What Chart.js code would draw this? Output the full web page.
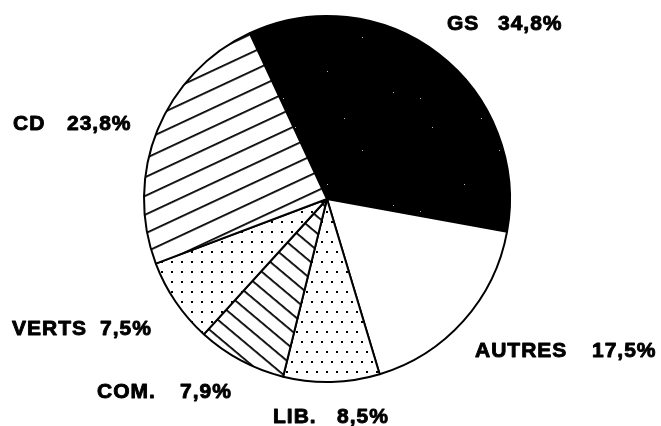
<!DOCTYPE html>
<html>
<head>
<meta charset="utf-8">
<script src="https://cdn.jsdelivr.net/npm/chart.js@4"></script>
<style>
  html, body { margin: 0; padding: 0; background: #fff; }
  canvas { display: block; }
</style>
</head>
<body>
<canvas id="pie" width="661" height="426"></canvas>
<script>
// parties, clockwise from the GS slice
const parties = ['GS', 'AUTRES', 'LIB.', 'COM.', 'VERTS', 'CD'];
const shares = [34.8, 17.5, 8.5, 7.9, 7.5, 23.8];
const shareText = shares.map(v => v.toFixed(1).replace('.', ',') + '%');

// label placement relative to the pie centre: [name x, value x, baseline y]
const labelOffsets = [
  [120, 171, -169],
  [148, 265, 158],
  [-54, 10, 224],
  [-230, -147, 199],
  [-315, -227, 136],
  [-314, -260, -69],
];

const canvas = document.getElementById('pie');
const ctx = canvas.getContext('2d');

function tile(w, h, draw) {
  const c = document.createElement('canvas');
  c.width = w; c.height = h;
  const g = c.getContext('2d');
  g.fillStyle = '#fff';
  g.fillRect(0, 0, w, h);
  g.fillStyle = '#000';
  draw(g);
  return c;
}

function hatch(spacing, angle) {
  const c = tile(8, spacing, g => g.fillRect(0, 0, 8, 1.8));
  const p = ctx.createPattern(c, 'repeat');
  p.setTransform(new DOMMatrix().rotate(angle));
  return p;
}

// solid black with a few faint specks, like the scanned original
const speckled = ctx.createPattern(tile(137, 113, g => {
  g.fillRect(0, 0, 137, 113);
  g.fillStyle = '#bbb';
  [[21, 14], [88, 37], [53, 71], [119, 92], [9, 98], [70, 5]].forEach(([x, y]) => g.fillRect(x, y, 1, 1));
}), 'repeat');

const dotsStaggered = ctx.createPattern(tile(10, 20, g => {
  g.fillRect(1, 1, 2, 2);
  g.fillRect(6, 11, 2, 2);
}), 'repeat');

const dotsGrid = ctx.createPattern(tile(10, 10, g => g.fillRect(1, 1, 2, 2)), 'repeat');

const fills = [
  speckled,           // GS
  '#ffffff',          // AUTRES
  dotsStaggered,      // LIB.
  hatch(13.5, 40),    // COM.
  dotsGrid,           // VERTS
  hatch(17, -25),     // CD
];

const partyLabels = {
  id: 'partyLabels',
  afterDraw(chart) {
    const arc = chart.getDatasetMeta(0).data[0];
    const g = chart.ctx;
    g.save();
    g.font = 'bold 21px "Liberation Sans", Arial, sans-serif';
    g.fillStyle = '#000';
    g.strokeStyle = '#000';
    g.lineWidth = 0.9;
    g.lineJoin = 'round';
    g.textAlign = 'left';
    g.textBaseline = 'alphabetic';
    if ('letterSpacing' in g) g.letterSpacing = '1px';
    parties.forEach((name, i) => {
      const [nx, vx, y] = labelOffsets[i];
      g.fillText(name, arc.x + nx, arc.y + y);
      g.strokeText(name, arc.x + nx, arc.y + y);
      g.fillText(shareText[i], arc.x + vx, arc.y + y);
      g.strokeText(shareText[i], arc.x + vx, arc.y + y);
    });
    g.restore();
  },
};

new Chart(ctx, {
  type: 'pie',
  data: {
    labels: parties,
    datasets: [{
      data: shares,
      backgroundColor: fills,
      borderColor: '#000',
      borderWidth: 2,
    }],
  },
  options: {
    responsive: false,
    animation: false,
    rotation: -25,
    layout: { padding: { top: 15, bottom: 43, left: 0, right: 7 } },
    plugins: {
      legend: { display: false },
      tooltip: { enabled: false },
    },
  },
  plugins: [partyLabels],
});
</script>
</body>
</html>
